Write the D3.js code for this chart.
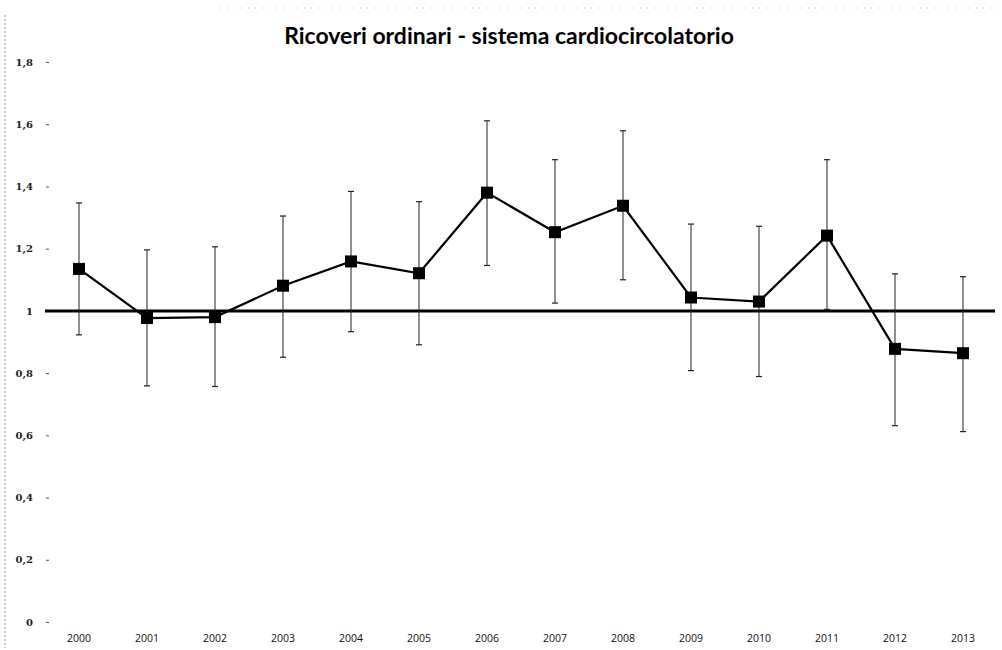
<!DOCTYPE html>
<html>
<head>
<meta charset="utf-8">
<script src="https://cdn.jsdelivr.net/npm/d3@7"></script>
<style>
  body { margin: 0; background: #fff; }
  svg { display: block; }
</style>
</head>
<body>
<svg id="chart" width="1002" height="650"></svg>
<script>
const years = ["2000","2001","2002","2003","2004","2005","2006","2007","2008","2009","2010","2011","2012","2013"]
const values = [1.135, 0.977, 0.98, 1.081, 1.159, 1.121, 1.38, 1.253, 1.338, 1.043, 1.03, 1.242, 0.878, 0.864]
const upper = [1.347, 1.196, 1.206, 1.305, 1.384, 1.351, 1.611, 1.486, 1.579, 1.279, 1.272, 1.486, 1.119, 1.11]
const lower = [0.923, 0.759, 0.757, 0.851, 0.933, 0.891, 1.146, 1.025, 1.1, 0.808, 0.789, 1.005, 0.631, 0.612]
const yTicks = [0, 0.2, 0.4, 0.6, 0.8, 1, 1.2, 1.4, 1.6, 1.8]
const refValue = 1
const title = "Ricoveri ordinari - sistema cardiocircolatorio"

const svg = d3.select("#chart")

const x = d3.scaleBand().domain(years).range([45, 997]).padding(0)
const y = d3.scaleLinear().domain([0, 1.8]).range([622, 62])
const cx = d => x(d) + x.bandwidth() / 2

const data = years.map((yr, i) => ({year: yr, v: values[i], hi: upper[i], lo: lower[i]}))

// scan-like frame lines
svg.append("line")
    .attr("x1", 5).attr("x2", 5).attr("y1", 15).attr("y2", 648)
    .attr("stroke", "#999").attr("stroke-dasharray", "2,2")
svg.append("line")
    .attr("x1", 220).attr("x2", 1000).attr("y1", 8).attr("y2", 8)
    .attr("stroke", "#bbb").attr("stroke-dasharray", "1,6")

// title
svg.append("text")
    .attr("x", 509).attr("y", 44)
    .attr("text-anchor", "middle")
    .style("font-family", "Lato, 'Open Sans', sans-serif")
    .style("font-weight", "bold")
    .style("font-size", "23px")
    .text(title)

// y axis: labels and small ticks, no axis line
const yAxis = d3.axisLeft(y)
    .tickValues(yTicks)
    .tickSize(3)
    .tickPadding(13)
    .tickFormat(d => String(d).replace(".", ","))
const gy = svg.append("g").attr("transform", "translate(49,0)").call(yAxis)
gy.select(".domain").remove()
gy.selectAll(".tick line").attr("stroke", "#555")
gy.selectAll("text")
    .style("font-family", "'DejaVu Serif', serif")
    .style("font-weight", "bold")
    .style("font-size", "10px")
    .attr("fill", "#222")

// x axis labels
const xAxis = d3.axisBottom(x).tickSize(0).tickPadding(8)
const gx = svg.append("g").attr("transform", "translate(0,627)").call(xAxis)
gx.select(".domain").remove()
gx.selectAll("text")
    .style("font-family", "'Open Sans', sans-serif")
    .style("font-size", "10.5px")
    .attr("fill", "#111")

// reference line at 1
svg.append("line")
    .attr("x1", 45).attr("x2", 995)
    .attr("y1", y(refValue)).attr("y2", y(refValue))
    .attr("stroke", "#000").attr("stroke-width", 3)

// error bars
const eb = svg.append("g").selectAll("g").data(data).enter().append("g")
eb.append("line")
    .attr("x1", d => cx(d.year)).attr("x2", d => cx(d.year))
    .attr("y1", d => y(d.hi)).attr("y2", d => y(d.lo))
    .attr("stroke", "#222").attr("stroke-width", 1)
eb.append("line")
    .attr("x1", d => cx(d.year) - 3).attr("x2", d => cx(d.year) + 3)
    .attr("y1", d => y(d.hi)).attr("y2", d => y(d.hi))
    .attr("stroke", "#222").attr("stroke-width", 1.2)
eb.append("line")
    .attr("x1", d => cx(d.year) - 3).attr("x2", d => cx(d.year) + 3)
    .attr("y1", d => y(d.lo)).attr("y2", d => y(d.lo))
    .attr("stroke", "#222").attr("stroke-width", 1.2)

// series line
const line = d3.line().x(d => cx(d.year)).y(d => y(d.v))
svg.append("path")
    .datum(data)
    .attr("d", line)
    .attr("fill", "none")
    .attr("stroke", "#000")
    .attr("stroke-width", 2.2)

// square markers
const ms = 12
svg.append("g").selectAll("rect").data(data).enter().append("rect")
    .attr("x", d => cx(d.year) - ms / 2)
    .attr("y", d => y(d.v) - ms / 2)
    .attr("width", ms).attr("height", ms)
    .attr("fill", "#000")
</script>
</body>
</html>
